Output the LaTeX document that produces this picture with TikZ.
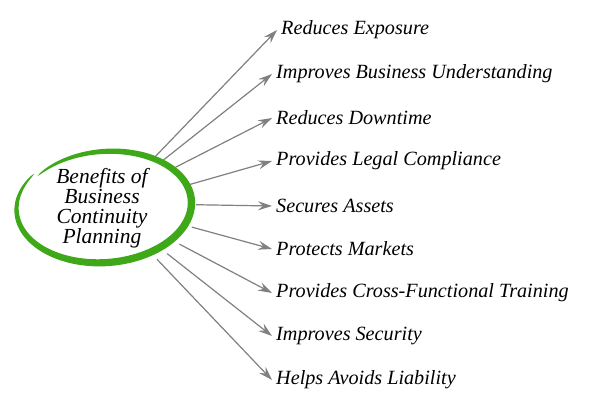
\documentclass[tikz,border=0pt]{standalone}
\usepackage{fontspec}
\setmainfont{Liberation Serif}
\usetikzlibrary{arrows.meta,shapes.geometric}

\definecolor{ringgreen}{RGB}{62,168,24}
\definecolor{arrowgray}{RGB}{128,128,128}

\tikzset{
  core/.style={ellipse, inner sep=0pt, minimum width=188pt, minimum height=126pt,
    align=center, font=\itshape\fontsize{21.5}{20}\selectfont},
  item/.style={anchor=west, inner sep=4pt, font=\itshape\fontsize{20.2}{20}\selectfont},
  benefit/.style={draw=arrowgray, line width=1.2pt,
    -{Stealth[length=14pt,width=9pt,inset=5pt]}}
}

\begin{document}
\begin{tikzpicture}[x=1pt,y=-1pt]
    \useasboundingbox (0,0) rectangle (600,416);

    % Hand drawn ring
    \begin{scope}[shift={(105,206)},rotate=4]
    \fill[ringgreen]
      plot[domain=140:500,samples=150]
        ({(89-4*(\x-140)/360+3.8*sqrt(abs(sin((\x-140)/2))))*cos(\x)},
         {-(58-4*(\x-140)/360+3.8*sqrt(abs(sin((\x-140)/2))))*sin(\x)})
      -- plot[domain=500:140,samples=150]
        ({(89-4*(\x-140)/360-3.8*sqrt(abs(sin((\x-140)/2))))*cos(\x)},
         {-(58-4*(\x-140)/360-3.8*sqrt(abs(sin((\x-140)/2))))*sin(\x)})
      -- cycle;
    \end{scope}

    % Title in the ring
    \node[core] (core) at (102,208) {Benefits of\\Business\\Continuity\\Planning};

    % Benefits
    \node[item] (exposure) at (277,30) {Reduces Exposure};
    \node[item] (understanding) at (272,74) {Improves Business Understanding};
    \node[item] (downtime) at (272,118) {Reduces Downtime};
    \node[item] (compliance) at (272,161) {Provides Legal Compliance};
    \node[item] (assets) at (272,206) {Secures Assets};
    \node[item] (markets) at (272,249) {Protects Markets};
    \node[item] (training) at (272,293) {Provides Cross-Functional Training};
    \node[item] (security) at (272,336) {Improves Security};
    \node[item] (liability) at (272,380) {Helps Avoids Liability};

    % Draw the arrows
    \draw[benefit] (core.44) -- (exposure.west);
    \draw[benefit] (core.38) -- (understanding.west);
    \draw[benefit] (core.29) -- (downtime.west);
    \draw[benefit] (core.15) -- (compliance.west);
    \draw[benefit] (core.2) -- (assets.west);
    \draw[benefit] (core.-12) -- (markets.west);
    \draw[benefit] (core.-25) -- (training.west);
    \draw[benefit] (core.-35) -- (security.west);
    \draw[benefit] (core.-43) -- (liability.west);

\end{tikzpicture}
\end{document}
